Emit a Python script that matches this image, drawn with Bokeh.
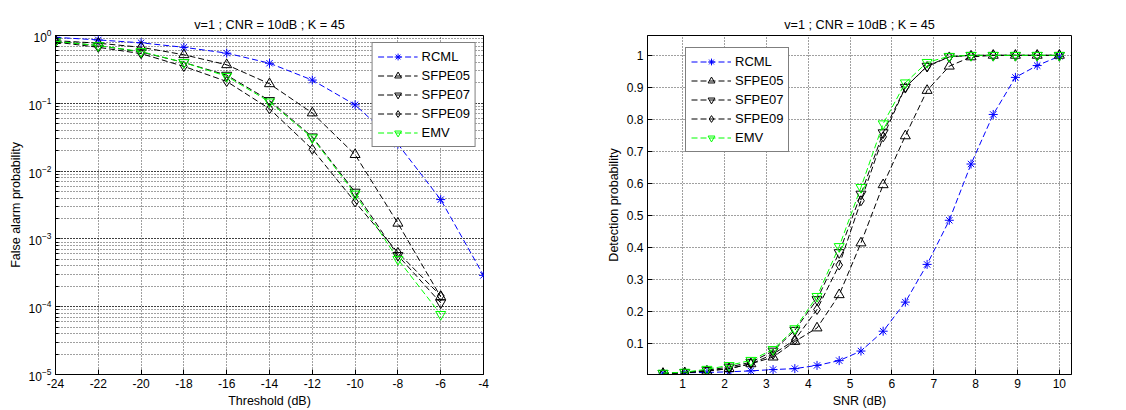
from bokeh.plotting import figure
from bokeh.layouts import row
from bokeh.models import Legend, LegendItem, FixedTicker, Range1d
from bokeh.embed import file_html
from bokeh.resources import INLINE

FONT = "Liberation Sans"
TITLE = "v=1 ; CNR = 10dB ; K = 45"

# ---------------- data: left (false alarm vs threshold) ----------------
thr_rcml = [-24, -22, -20, -18, -16, -14, -12, -10, -8, -6, -4]
thr = [-24, -22, -20, -18, -16, -14, -12, -10, -8, -6]
pfa_rcml = [0.94, 0.86, 0.78, 0.67, 0.55, 0.39, 0.22, 0.095, 0.025, 0.0038, 0.00029]
pfa_sfpe05 = [0.84, 0.77, 0.67, 0.52, 0.37, 0.194, 0.072, 0.0175, 0.0017, 0.00014]
pfa_sfpe07 = [0.82, 0.71, 0.57, 0.40, 0.26, 0.11, 0.032, 0.0049, 0.00057, 0.000114]
pfa_sfpe09 = [0.80, 0.67, 0.54, 0.35, 0.21, 0.083, 0.021, 0.0035, 0.00063, 0.000145]
pfa_emv = [0.82, 0.71, 0.58, 0.40, 0.25, 0.105, 0.031, 0.0046, 0.0005, 0.000077]
thr_ticks = [-24, -22, -20, -18, -16, -14, -12, -10, -8, -6, -4]

# ---------------- data: right (detection vs SNR) ----------------
snr = [0.53, 1.05, 1.58, 2.11, 2.63, 3.16, 3.68, 4.21, 4.74, 5.26,
       5.79, 6.32, 6.84, 7.37, 7.89, 8.42, 8.95, 9.47, 10.0]
pd_rcml = [0.006, 0.007, 0.008, 0.010, 0.013, 0.017, 0.020, 0.030, 0.045, 0.075,
           0.137, 0.228, 0.346, 0.484, 0.660, 0.815, 0.931, 0.968, 0.997]
pd_sfpe05 = [0.005, 0.007, 0.012, 0.020, 0.035, 0.056, 0.105, 0.147, 0.251, 0.413,
             0.595, 0.748, 0.890, 0.966, 0.995, 1.0, 1.0, 1.0, 1.0]
pd_sfpe07 = [0.005, 0.008, 0.015, 0.025, 0.040, 0.075, 0.140, 0.236, 0.383, 0.566,
             0.758, 0.900, 0.966, 0.996, 1.0, 1.0, 1.0, 1.0, 1.0]
pd_sfpe09 = [0.004, 0.007, 0.013, 0.020, 0.035, 0.065, 0.110, 0.205, 0.344, 0.545,
             0.745, 0.900, 0.965, 0.995, 1.0, 1.0, 1.0, 1.0, 1.0]
pd_emv = [0.006, 0.009, 0.018, 0.030, 0.046, 0.080, 0.145, 0.246, 0.402, 0.587,
          0.786, 0.914, 0.978, 0.997, 1.0, 1.0, 1.0, 1.0, 1.0]
snr_ticks = [1, 2, 3, 4, 5, 6, 7, 8, 9, 10]
pd_ticks = [0.1, 0.2, 0.3, 0.4, 0.5, 0.6, 0.7, 0.8, 0.9, 1.0]
pd_tick_labels = ["0.1", "0.2", "0.3", "0.4", "0.5", "0.6", "0.7", "0.8", "0.9", "1"]

names = ["RCML", "SFPE05", "SFPE07", "SFPE09", "EMV"]
colors = ["#0000ff", "#000000", "#000000", "#000000", "#00ff00"]
markers = ["asterisk", "triangle", "inverted_triangle", "diamond", "inverted_triangle"]
sizes = [9, 10, 10, 10, 10]


def style_axis(ax, minor=False):
    ax.axis_line_color = "black"
    ax.major_tick_in = 5
    ax.major_tick_out = 0
    ax.major_tick_line_color = "black"
    if minor:
        ax.minor_tick_in = 3
        ax.minor_tick_out = 0
        ax.minor_tick_line_color = "black"
    else:
        ax.minor_tick_line_color = None
    ax.major_label_text_font = FONT
    ax.major_label_text_font_size = "12px"
    ax.major_label_text_color = "black"
    ax.axis_label_text_font = FONT
    ax.axis_label_text_font_size = "12.5px"
    ax.axis_label_text_font_style = "normal"
    ax.axis_label_text_color = "black"
    ax.major_label_standoff = 4
    ax.axis_label_standoff = 3


def base_fig(**kw):
    p = figure(output_backend="svg", toolbar_location=None, title=TITLE,
               height=410, min_border_top=35, min_border_bottom=36, **kw)
    p.title.align = "center"
    p.title.text_font = FONT
    p.title.text_font_size = "12.7px"
    p.title.text_font_style = "normal"
    p.title.text_color = "black"
    p.title.standoff = 7
    p.outline_line_color = "black"
    p.outline_line_alpha = 1
    p.background_fill_color = "white"
    p.border_fill_color = "white"
    p.grid.grid_line_color = "black"
    p.grid.grid_line_alpha = 0.75
    p.grid.grid_line_dash = "1 2"
    return p


def add_series(p, xs_list, ys_list):
    items = []
    for i, name in enumerate(names):
        xs, ys = xs_list[i], ys_list[i]
        lr = p.line(xs, ys, line_color=colors[i], line_width=1, line_dash="6 3")
        sr = p.scatter(xs, ys, marker=markers[i], size=sizes[i],
                       line_color=colors[i], fill_color=None, line_width=1)
        items.append(LegendItem(label=name, renderers=[lr, sr]))
    return items


def style_legend(leg):
    leg.border_line_color = "black"
    leg.border_line_width = 1
    leg.background_fill_color = "white"
    leg.background_fill_alpha = 1
    leg.label_text_font = FONT
    leg.label_text_font_size = "13px"
    leg.label_text_color = "black"
    leg.glyph_width = 40
    leg.glyph_height = 17
    leg.label_height = 17
    leg.spacing = 2
    leg.padding = 5
    leg.label_standoff = 4


# ---------------- left figure ----------------
p1 = base_fig(width=560, x_range=Range1d(-24, -4), y_range=Range1d(1e-5, 1),
              y_axis_type="log", min_border_left=55, min_border_right=77)
p1.xaxis.ticker = FixedTicker(ticks=thr_ticks)
p1.xaxis.major_label_overrides = {t: str(t) for t in thr_ticks}
p1.xaxis.axis_label = "Threshold (dB)"
p1.yaxis.axis_label = "False alarm probability"
style_axis(p1.xaxis[0])
style_axis(p1.yaxis[0], minor=True)
p1.ygrid.minor_grid_line_color = "black"
p1.ygrid.minor_grid_line_alpha = 0.75
p1.ygrid.minor_grid_line_dash = "1 2"

items1 = add_series(p1, [thr_rcml, thr, thr, thr, thr],
                    [pfa_rcml, pfa_sfpe05, pfa_sfpe07, pfa_sfpe09, pfa_emv])
leg1 = Legend(items=items1, location="top_right", margin=7)
style_legend(leg1)
p1.add_layout(leg1)

# ---------------- right figure ----------------
p2 = base_fig(width=566, x_range=Range1d(0.16, 10.29), y_range=Range1d(0.0016, 1.062),
              min_border_left=87, min_border_right=55)
p2.xaxis.ticker = FixedTicker(ticks=snr_ticks)
p2.yaxis.ticker = FixedTicker(ticks=pd_ticks)
p2.yaxis.major_label_overrides = dict(zip(pd_ticks, pd_tick_labels))
p2.xaxis.axis_label = "SNR (dB)"
p2.yaxis.axis_label = "Detection probability"
style_axis(p2.xaxis[0])
style_axis(p2.yaxis[0])

items2 = add_series(p2, [snr] * 5, [pd_rcml, pd_sfpe05, pd_sfpe07, pd_sfpe09, pd_emv])
leg2 = Legend(items=items2, location=(38, 222), margin=0)
style_legend(leg2)
p2.add_layout(leg2)

layout = row(p1, p2)
open("out.html", "w").write(file_html(layout, INLINE))
